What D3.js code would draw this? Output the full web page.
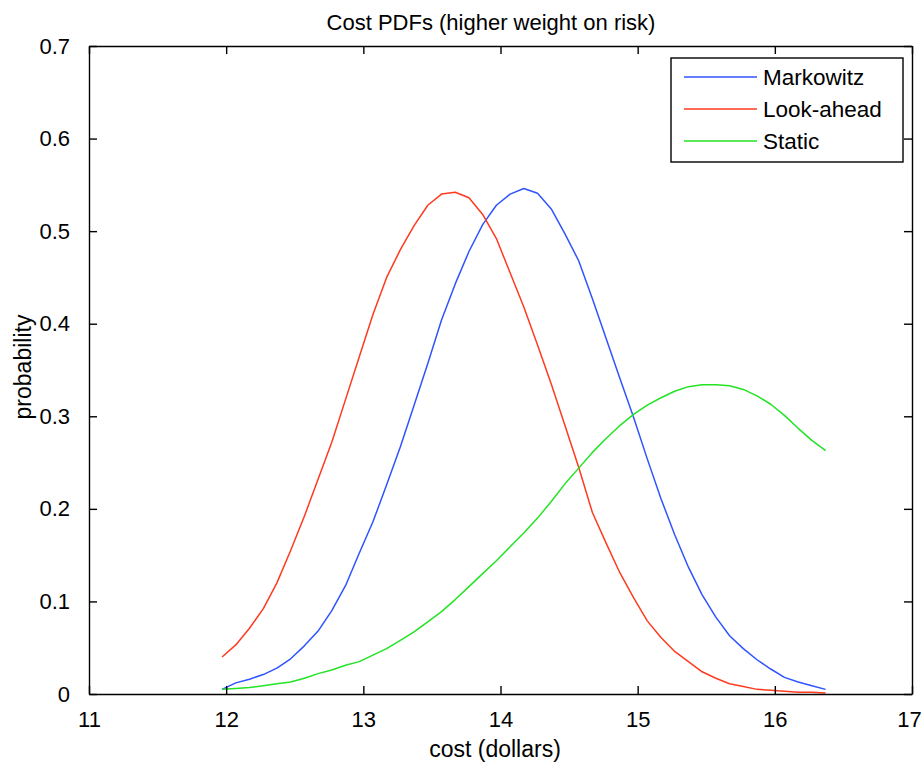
<!DOCTYPE html>
<html>
<head>
<meta charset="utf-8">
<script src="https://cdn.jsdelivr.net/npm/d3@7"></script>
<style>
  html, body { margin: 0; padding: 0; background: #fff; }
  svg { display: block; font-family: "Liberation Sans", Arial, Helvetica, sans-serif; }
</style>
</head>
<body>
<svg id="chart" width="922" height="763"></svg>
<script>
// Cost grid (dollars)
const cost = [11.97, 12.07, 12.17, 12.27, 12.37, 12.47, 12.57, 12.67, 12.77, 12.87,
              12.97, 13.07, 13.17, 13.27, 13.37, 13.47, 13.57, 13.67, 13.77, 13.87,
              13.97, 14.07, 14.17, 14.27, 14.37, 14.47, 14.57, 14.67, 14.77, 14.87,
              14.97, 15.07, 15.17, 15.27, 15.37, 15.47, 15.57, 15.67, 15.77, 15.87,
              15.97, 16.07, 16.17, 16.27, 16.37];

// Probability density for each strategy
const markowitz = [0.005, 0.012, 0.016, 0.021, 0.028, 0.038, 0.052, 0.068, 0.090, 0.117,
                   0.152, 0.186, 0.226, 0.267, 0.312, 0.357, 0.404, 0.443, 0.478, 0.507,
                   0.528, 0.540, 0.546, 0.541, 0.524, 0.497, 0.468, 0.427, 0.384, 0.341,
                   0.299, 0.254, 0.211, 0.172, 0.137, 0.107, 0.083, 0.063, 0.049, 0.037,
                   0.027, 0.018, 0.013, 0.009, 0.005];

const lookAhead = [0.040, 0.053, 0.071, 0.092, 0.120, 0.155, 0.192, 0.232, 0.272, 0.318,
                   0.364, 0.410, 0.450, 0.480, 0.506, 0.528, 0.540, 0.542, 0.536, 0.518,
                   0.492, 0.455, 0.418, 0.377, 0.335, 0.290, 0.245, 0.196, 0.163, 0.131,
                   0.104, 0.079, 0.061, 0.046, 0.035, 0.024, 0.017, 0.011, 0.008, 0.005,
                   0.004, 0.003, 0.002, 0.002, 0.001];

const staticPdf = [0.005, 0.006, 0.007, 0.009, 0.011, 0.013, 0.017, 0.022, 0.026, 0.031,
                   0.035, 0.042, 0.049, 0.058, 0.067, 0.078, 0.089, 0.102, 0.116, 0.130,
                   0.144, 0.159, 0.174, 0.190, 0.208, 0.227, 0.244, 0.261, 0.276, 0.290,
                   0.302, 0.312, 0.320, 0.327, 0.332, 0.334, 0.334, 0.333, 0.329, 0.322,
                   0.313, 0.301, 0.287, 0.274, 0.263];

const seriesNames = ["Markowitz", "Look-ahead", "Static"];
const seriesColors = ["#2f54ff", "#ff3a1f", "#22e324"];

const xTicks = [11, 12, 13, 14, 15, 16, 17];
const yTicks = [0, 0.1, 0.2, 0.3, 0.4, 0.5, 0.6, 0.7];

const titleText = "Cost PDFs (higher weight on risk)";
const xLabelText = "cost (dollars)";
const yLabelText = "probability";

// ---- layout ----
const svg = d3.select("#chart");
const plotLeft = 89, plotRight = 912, plotTop = 46, plotBottom = 694;
const tickLen = 8;

const x = d3.scaleLinear().domain([11, 17]).range([plotLeft, plotRight]);
const y = d3.scaleLinear().domain([0, 0.7]).range([plotBottom, plotTop]);

// Curves
const series = [markowitz, lookAhead, staticPdf];
const line = d3.line()
  .x((d, i) => x(cost[i]))
  .y(d => y(d));

svg.append("g")
  .selectAll("path")
  .data(series)
  .join("path")
  .attr("d", d => line(d))
  .attr("fill", "none")
  .attr("stroke", (d, i) => seriesColors[i])
  .attr("stroke-width", 1.5)
  .attr("stroke-linejoin", "round");

// Axes box with inward ticks on all four sides
const axisStyle = g => {
  g.select(".domain").attr("stroke", "#000").attr("stroke-width", 1.4);
  g.selectAll(".tick line").attr("stroke", "#000").attr("stroke-width", 1.4);
  g.selectAll(".tick text").attr("fill", "#000").attr("font-size", 22)
    .attr("font-family", "\"Liberation Sans\", Arial, sans-serif");
};

const xAxisG = svg.append("g")
  .attr("transform", `translate(0,${plotBottom})`)
  .call(d3.axisBottom(x).tickValues(xTicks).tickFormat(d3.format("d"))
        .tickSizeInner(-tickLen).tickSizeOuter(0).tickPadding(17))
  .call(axisStyle);
// keep the last label inside the page edge
xAxisG.selectAll(".tick text").filter(d => d === 17).attr("dx", -3);

svg.append("g")
  .attr("transform", `translate(0,${plotTop})`)
  .call(d3.axisTop(x).tickValues(xTicks).tickFormat("")
        .tickSizeInner(-tickLen).tickSizeOuter(0))
  .call(axisStyle);

svg.append("g")
  .attr("transform", `translate(${plotLeft},0)`)
  .call(d3.axisLeft(y).tickValues(yTicks)
        .tickFormat(d => d === 0 ? "0" : d3.format(".1f")(d))
        .tickSizeInner(-tickLen).tickSizeOuter(0).tickPadding(19))
  .call(axisStyle);

svg.append("g")
  .attr("transform", `translate(${plotRight},0)`)
  .call(d3.axisRight(y).tickValues(yTicks).tickFormat("")
        .tickSizeInner(-tickLen).tickSizeOuter(0))
  .call(axisStyle);

// Title and axis labels
svg.append("text")
  .attr("x", 491).attr("y", 30)
  .attr("text-anchor", "middle")
  .attr("font-size", 22)
  .attr("fill", "#000")
  .text(titleText);

svg.append("text")
  .attr("x", 495).attr("y", 757)
  .attr("text-anchor", "middle")
  .attr("font-size", 23)
  .attr("fill", "#000")
  .text(xLabelText);

svg.append("text")
  .attr("transform", "translate(31,367) rotate(-90)")
  .attr("text-anchor", "middle")
  .attr("font-size", 23)
  .attr("fill", "#000")
  .text(yLabelText);

// Legend
const legend = svg.append("g");
legend.append("rect")
  .attr("x", 671).attr("y", 58)
  .attr("width", 232).attr("height", 104)
  .attr("fill", "#fff")
  .attr("stroke", "#000")
  .attr("stroke-width", 1.4);

const rowY = [77, 109, 141];
const rows = legend.selectAll("g.row")
  .data(seriesNames)
  .join("g")
  .attr("class", "row")
  .attr("transform", (d, i) => `translate(0,${rowY[i]})`);

rows.append("line")
  .attr("x1", 684).attr("x2", 757)
  .attr("y1", 0).attr("y2", 0)
  .attr("stroke", (d, i) => seriesColors[i])
  .attr("stroke-width", 1.5);

rows.append("text")
  .attr("x", 763).attr("y", 8)
  .attr("font-size", 22.5)
  .attr("fill", "#000")
  .text(d => d);
</script>
</body>
</html>
